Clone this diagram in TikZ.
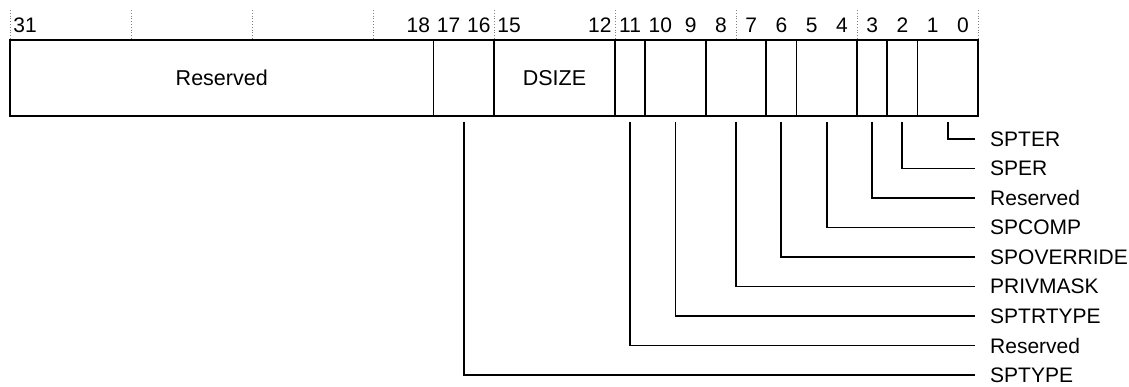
\documentclass[tikz,border=0pt]{standalone}
\usepackage{fontspec}
\setmainfont{Liberation Sans}
\usetikzlibrary{positioning}
\tikzset{
  regfield/.style={draw, line width=1.8pt, minimum height=76pt, inner sep=0pt, outer sep=0pt, font=\fontsize{21.5}{26}\selectfont},
  bitnum/.style={inner sep=0pt, font=\fontsize{21}{25}\selectfont},
  fieldname/.style={anchor=west, inner xsep=15pt, inner ysep=0pt, text height=15pt, text depth=0pt, font=\fontsize{21}{25}\selectfont},
  leader/.style={line width=1.8pt},
}
\begin{document}
\begin{tikzpicture}[x=1pt, y=-1pt]
    \useasboundingbox (0,0) rectangle (1129,387);

    % Dotted nibble ticks
    \foreach \k in {0,...,8}
        \draw[dotted, gray, line width=0.8pt] ({10+\k*121},10) -- ({10+\k*121},40);

    % Bit numbers
    \foreach \b in {31,18,17,16,15,12,11,10,...,0}
        \node[bitnum] (b\b) at ({10+(31-\b)*30.25+15.125},25) {\b};

    % Register fields
    \foreach \hi/\lo/\nm/\txt in {31/18/rsvd/Reserved, 17/16/sptype/, 15/12/dsize/DSIZE, 11/11/rsvb/, 10/9/sptrtype/, 8/7/privmask/, 6/6/spovr/, 5/4/spcomp/, 3/3/rsva/, 2/2/sper/, 1/0/spter/}
        \node[regfield, minimum width={(\hi-\lo+1)*30.25pt}] (\nm) at ({10+(31-\hi)*30.25+(\hi-\lo+1)*15.125},78) {\txt};
    \draw[line width=2.5pt] (rsvd.north west) rectangle (spter.south east);

    % Field names and leaders
    \foreach \f/\t/\r in {spter/SPTER/0, sper/SPER/1, rsva/Reserved/2, spcomp/SPCOMP/3, spovr/SPOVERRIDE/4, privmask/PRIVMASK/5, sptrtype/SPTRTYPE/6, rsvb/Reserved/7, sptype/SPTYPE/8} {
        \node[fieldname] (l\f) at (975,{139+29.5*\r}) {\t};
        \draw[leader] ([yshift=-6pt]\f.south) |- (l\f.west);
    }
\end{tikzpicture}
\end{document}
